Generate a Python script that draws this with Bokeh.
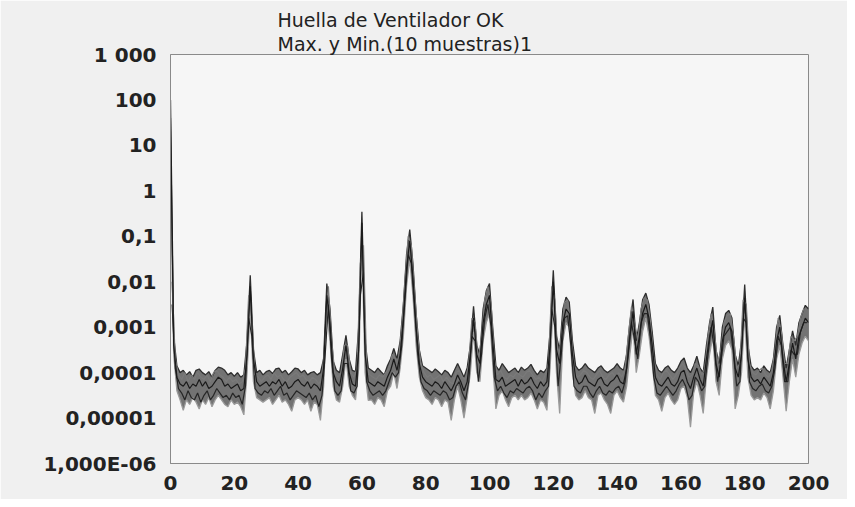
from bokeh.plotting import figure
from bokeh.models import Range1d, FixedTicker, CustomJSTickFormatter, Title, ColumnDataSource
from bokeh.embed import file_html
from bokeh.resources import INLINE

# frequency axis (0..200, step 1) and half-step positions
freq = list(range(0, 201))
freq_half = [i + 0.5 for i in range(0, 200)]

# log10 of amplitude: upper envelope (max of 10 samples)
max_log10 = [
    2.0, -3.2, -3.85, -4.0, -3.95, -4.05, -3.98, -4.1, -3.95, -3.92,
    -4.0, -4.05, -3.98, -4.1, -3.95, -3.88, -3.9, -3.95, -4.05, -4.0,
    -4.08, -4.0, -4.1, -4.05, -3.3, -1.86, -3.5, -4.0, -3.95, -4.05,
    -3.98, -3.95, -4.02, -3.92, -3.9, -4.0, -3.95, -4.05, -3.98, -3.9,
    -3.92, -4.0, -3.95, -4.05, -4.0, -3.98, -4.05, -4.0, -3.7, -2.04,
    -2.6, -3.75, -3.95, -4.0, -3.6, -3.18, -3.7, -3.95, -3.98, -3.0,
    -0.46, -3.3, -3.9, -3.95, -4.0, -3.9, -3.98, -4.05, -3.85, -3.7,
    -3.47, -3.7, -3.3, -2.5, -1.4, -0.85, -1.6, -2.7, -3.5, -3.85,
    -3.9, -3.95, -4.0, -3.92, -3.98, -4.05, -3.95, -4.0, -4.1, -3.95,
    -3.8, -3.95, -4.1, -3.9, -3.4, -2.54, -3.4, -3.6, -2.6, -2.2,
    -2.04, -3.0, -3.85, -3.95, -3.8, -3.9, -4.0, -3.95, -3.9, -4.0,
    -3.88, -3.95, -3.9, -3.82, -3.95, -4.05, -3.95, -4.0, -3.9, -3.1,
    -1.75, -3.2, -3.5, -2.6, -2.34, -2.45, -3.3, -3.85, -3.95, -3.9,
    -3.8, -3.9, -3.95, -4.0, -3.9, -3.85, -3.95, -4.0, -3.95, -3.9,
    -3.8, -3.9, -3.95, -3.6, -2.9, -2.39, -3.3, -2.9, -2.4, -2.25,
    -2.5, -3.1, -3.8, -3.95, -4.0, -3.9, -3.85, -3.95, -4.0, -3.9,
    -3.75, -3.68, -3.9, -4.0, -3.85, -3.64, -3.9, -4.0, -3.4, -2.9,
    -2.56, -3.5, -3.8, -3.0, -2.7, -2.63, -2.8, -3.6, -3.85, -3.3,
    -2.06, -3.4, -3.85, -3.95, -3.9, -4.0, -3.85, -3.95, -4.0, -3.7,
    -3.0, -2.74, -3.4, -3.9, -3.5, -3.08, -3.4, -2.9, -2.7, -2.52,
    -2.6,
]

# log10 of a typical sample
mid_log10 = [
    1.6, -3.4, -4.1, -4.25, -4.3, -4.2, -4.35, -4.25, -4.3, -4.15,
    -4.3, -4.2, -4.35, -4.3, -4.2, -4.1, -4.15, -4.3, -4.25, -4.35,
    -4.3, -4.25, -4.4, -4.35, -3.6, -2.1, -3.7, -4.2, -4.3, -4.25,
    -4.2, -4.3, -4.2, -4.25, -4.15, -4.3, -4.2, -4.35, -4.3, -4.2,
    -4.15, -4.25, -4.3, -4.2, -4.35, -4.25, -4.3, -4.4, -3.9, -2.3,
    -2.9, -4.0, -4.2, -4.3, -3.9, -3.4, -4.0, -4.25, -4.3, -3.5,
    -0.7, -3.6, -4.2, -4.25, -4.3, -4.2, -4.25, -4.3, -4.1, -3.95,
    -3.7, -3.95, -3.6, -2.8, -1.7, -1.1, -1.9, -3.0, -3.8, -4.1,
    -4.2, -4.25, -4.3, -4.2, -4.25, -4.35, -4.2, -4.3, -4.4, -4.25,
    -4.05, -4.2, -4.4, -4.2, -3.6, -2.8, -3.6, -3.8, -2.9, -2.5,
    -2.3, -3.3, -4.15, -4.2, -4.1, -4.3, -4.25, -4.2, -4.15, -4.3,
    -4.15, -4.25, -4.2, -4.1, -4.25, -4.35, -4.2, -4.3, -4.2, -3.4,
    -2.0, -3.5, -3.8, -2.9, -2.6, -2.7, -3.6, -4.1, -4.25, -4.2,
    -4.05, -4.2, -4.25, -4.3, -4.15, -4.1, -4.25, -4.3, -4.2, -4.15,
    -4.05, -4.2, -4.25, -3.9, -3.2, -2.65, -3.6, -3.2, -2.7, -2.5,
    -2.8, -3.4, -4.1, -4.25, -4.3, -4.2, -4.1, -4.25, -4.3, -4.2,
    -4.0, -3.95, -4.2, -4.35, -4.1, -3.9, -4.15, -4.3, -3.7, -3.2,
    -2.85, -3.8, -4.1, -3.3, -3.0, -2.9, -3.1, -3.9, -4.1, -3.6,
    -2.35, -3.7, -4.1, -4.2, -4.15, -4.25, -4.1, -4.2, -4.3, -4.0,
    -3.3, -3.0, -3.7, -4.2, -3.8, -3.35, -3.7, -3.2, -3.0, -2.8,
    -2.9,
]

# log10 of amplitude: lower envelope (min of 10 samples)
min_log10 = [
    0.18, -3.6, -4.4, -4.6, -4.83, -4.6, -4.7, -4.55, -4.65, -4.8,
    -4.6, -4.7, -4.55, -4.75, -4.6, -4.5, -4.6, -4.7, -4.75, -4.6,
    -4.7, -4.65, -4.75, -4.93, -4.0, -2.6, -4.2, -4.55, -4.6, -4.65,
    -4.6, -4.55, -4.7, -4.6, -4.5, -4.65, -4.6, -4.7, -4.85, -4.6,
    -4.55, -4.6, -4.7, -4.6, -4.85, -4.65, -4.7, -5.05, -4.3, -2.7,
    -3.3, -4.3, -4.6, -4.65, -4.3, -3.7, -4.3, -4.5, -4.6, -3.9,
    -1.1, -4.0, -4.61, -4.6, -4.7, -4.55, -4.6, -4.75, -4.4, -4.3,
    -4.0, -4.35, -3.9, -3.2, -2.1, -1.5, -2.3, -3.4, -4.1, -4.4,
    -4.55, -4.6, -4.7, -4.55, -4.6, -4.75, -4.6, -4.65, -5.05, -4.6,
    -4.3, -4.6, -5.0, -4.55, -4.0, -3.1, -4.0, -4.2, -3.3, -2.9,
    -2.7, -3.8, -4.8, -4.5, -4.4, -4.6, -4.75, -4.55, -4.5, -4.6,
    -4.5, -4.6, -4.55, -4.45, -4.6, -4.8, -4.6, -4.65, -4.83, -3.9,
    -2.4, -4.0, -4.9, -3.3, -2.9, -3.0, -4.0, -4.5, -4.6, -4.55,
    -4.4, -4.55, -4.6, -4.9, -4.5, -4.45, -4.6, -4.7, -4.9, -4.5,
    -4.4, -4.55, -4.65, -4.3, -3.6, -3.0, -4.0, -3.6, -3.1, -2.8,
    -3.2, -3.8, -4.5, -4.6, -4.85, -4.55, -4.45, -4.6, -4.7, -4.6,
    -4.35, -4.3, -4.55, -5.2, -4.45, -4.2, -4.5, -4.9, -4.1, -3.6,
    -3.2, -4.2, -4.5, -3.7, -3.4, -3.3, -3.5, -4.8, -4.5, -4.0,
    -2.7, -4.1, -4.5, -4.6, -4.55, -4.6, -4.45, -4.55, -4.8, -4.4,
    -3.7, -3.4, -4.1, -4.85, -4.2, -3.7, -4.1, -3.6, -3.35, -3.2,
    -3.3,
]

# log10 of two more samples, read at the half-step positions
sample_c_log10 = [
    -2.0, -3.7, -4.05, -4.15, -4.0, -4.2, -4.05, -4.15, -4.0, -4.1,
    -4.15, -4.05, -4.2, -4.0, -3.95, -4.05, -4.1, -4.2, -4.1, -4.2,
    -4.15, -4.25, -4.2, -3.9, -2.3, -2.8, -4.05, -4.1, -4.2, -4.1,
    -4.05, -4.15, -4.0, -4.1, -4.05, -4.15, -4.2, -4.1, -4.05, -4.0,
    -4.1, -4.05, -4.15, -4.2, -4.1, -4.15, -4.25, -4.1, -3.2, -2.1,
    -3.3, -4.0, -4.1, -4.0, -3.4, -3.4, -4.0, -4.1, -3.9, -1.6,
    -1.2, -3.9, -4.05, -4.1, -4.15, -4.05, -4.1, -4.0, -3.9, -3.6,
    -3.7, -3.7, -3.0, -2.0, -1.0, -1.2, -2.2, -3.2, -3.8, -4.0,
    -4.1, -4.05, -4.15, -4.1, -4.05, -4.2, -4.1, -4.2, -4.25, -4.0,
    -3.95, -4.1, -4.15, -3.8, -2.8, -2.9, -3.8, -3.2, -2.4, -2.1,
    -2.5, -3.7, -4.05, -3.95, -4.1, -4.15, -4.05, -4.1, -4.0, -4.05,
    -4.1, -4.0, -3.95, -4.05, -4.15, -4.1, -4.2, -4.05, -3.8, -2.1,
    -2.4, -3.8, -3.2, -2.45, -2.4, -3.0, -3.9, -4.1, -4.05, -3.95,
    -4.0, -4.1, -4.15, -4.05, -3.95, -4.1, -4.15, -4.05, -4.0, -4.1,
    -4.0, -4.1, -3.9, -3.2, -2.55, -2.9, -3.3, -2.6, -2.35, -2.4,
    -2.9, -3.7, -4.05, -4.15, -4.0, -3.95, -4.05, -4.15, -4.05, -3.9,
    -3.8, -3.9, -4.1, -4.05, -3.8, -3.85, -4.05, -3.9, -3.2, -2.7,
    -3.1, -3.8, -3.5, -2.9, -2.75, -2.7, -3.2, -3.9, -3.8, -2.4,
    -2.5, -3.8, -4.0, -4.05, -3.95, -3.9, -4.05, -4.1, -3.95, -3.5,
    -2.8, -3.1, -3.8, -3.8, -3.2, -3.3, -3.2, -2.8, -2.6, -2.6,
]

sample_d_log10 = [
    -2.5, -3.9, -4.35, -4.45, -4.6, -4.4, -4.55, -4.6, -4.45, -4.65,
    -4.5, -4.4, -4.6, -4.5, -4.35, -4.45, -4.55, -4.5, -4.6, -4.45,
    -4.55, -4.5, -4.7, -4.3, -2.8, -3.2, -4.35, -4.45, -4.5, -4.4,
    -4.45, -4.35, -4.5, -4.4, -4.3, -4.5, -4.45, -4.6, -4.5, -4.4,
    -4.45, -4.5, -4.55, -4.45, -4.6, -4.5, -4.75, -4.5, -3.6, -2.5,
    -3.7, -4.4, -4.5, -4.4, -3.8, -3.8, -4.4, -4.45, -4.3, -2.3,
    -1.8, -4.2, -4.4, -4.5, -4.45, -4.4, -4.5, -4.4, -4.2, -4.0,
    -4.1, -4.0, -3.4, -2.4, -1.4, -1.6, -2.6, -3.6, -4.2, -4.35,
    -4.4, -4.5, -4.4, -4.45, -4.5, -4.4, -4.45, -4.6, -4.55, -4.3,
    -4.2, -4.45, -4.6, -4.2, -3.2, -3.3, -4.2, -3.6, -2.8, -2.5,
    -3.0, -4.1, -4.4, -4.3, -4.45, -4.55, -4.4, -4.45, -4.35, -4.4,
    -4.45, -4.35, -4.3, -4.4, -4.6, -4.45, -4.55, -4.4, -4.3, -2.6,
    -3.0, -4.3, -3.6, -2.8, -2.75, -3.4, -4.3, -4.4, -4.45, -4.3,
    -4.3, -4.45, -4.55, -4.4, -4.3, -4.45, -4.5, -4.4, -4.45, -4.35,
    -4.3, -4.45, -4.2, -3.6, -2.9, -3.3, -3.7, -2.9, -2.7, -2.7,
    -3.3, -4.1, -4.45, -4.5, -4.4, -4.3, -4.4, -4.5, -4.4, -4.25,
    -4.15, -4.3, -4.6, -4.5, -4.1, -4.2, -4.4, -4.3, -3.6, -3.0,
    -3.5, -4.2, -3.8, -3.2, -3.1, -3.0, -3.6, -4.3, -4.2, -2.8,
    -2.9, -4.2, -4.35, -4.4, -4.3, -4.25, -4.4, -4.45, -4.3, -3.9,
    -3.2, -3.4, -4.2, -4.2, -3.5, -3.6, -3.6, -3.1, -2.9, -2.9,
]

x_ticks = [0, 20, 40, 60, 80, 100, 120, 140, 160, 180, 200]
y_ticks = [1e-6, 1e-5, 1e-4, 1e-3, 1e-2, 1e-1, 1, 10, 100, 1000]
y_tick_labels = ["1,000E-06", "0,00001", "0,0001", "0,001", "0,01", "0,1", "1", "10", "100", "1 000"]

title_line1 = "Huella de Ventilador OK"
title_line2 = "Max. y Min.(10 muestras)1"

src = ColumnDataSource(data=dict(
    f=freq,
    ymax=[10 ** v for v in max_log10],
    ymid=[10 ** v for v in mid_log10],
    ymin=[10 ** v for v in min_log10],
))
src_half = ColumnDataSource(data=dict(
    f=freq_half,
    yc=[10 ** v for v in sample_c_log10],
    yd=[10 ** v for v in sample_d_log10],
))

p = figure(
    width=847, height=499,
    frame_width=638, frame_height=409,
    y_axis_type="log",
    x_range=Range1d(0, 200), y_range=Range1d(1e-6, 1e3),
    output_backend="svg", toolbar_location=None,
    min_border_left=170, min_border_right=39, min_border_top=54, min_border_bottom=36,
    title=None,
)

p.background_fill_color = "#f6f6f6"
p.border_fill_color = "#f0f0f0"
p.outline_line_color = "#8a8a8a"
p.outline_line_width = 1
p.grid.visible = False

t2 = Title(text=title_line2, align="left", offset=107, standoff=0,
           text_font="DejaVu Sans", text_font_size="19px", text_font_style="normal",
           text_color="#222222")
t1 = Title(text=title_line1, align="left", offset=107, standoff=0,
           text_font="DejaVu Sans", text_font_size="19px", text_font_style="normal",
           text_color="#222222")
p.add_layout(t2, "above")
p.add_layout(t1, "above")

p.varea(x="f", y1="ymin", y2="ymax", source=src, fill_color="#3c3c3c", fill_alpha=0.7)
p.line(x="f", y="ymin", source=src, line_color="#9a9a9a", line_width=1.3)
p.line(x="f", y="yd", source=src_half, line_color="#262626", line_width=1.2)
p.line(x="f", y="ymax", source=src, line_color="#2e2e2e", line_width=1.3)
p.line(x="f", y="yc", source=src_half, line_color="#7a7a7a", line_width=1.2)
p.line(x="f", y="ymid", source=src, line_color="#1a1a1a", line_width=1.2)

for ax in (p.xaxis[0], p.yaxis[0]):
    ax.axis_line_color = "#8a8a8a"
    ax.axis_line_width = 1
    ax.major_tick_line_color = None
    ax.minor_tick_line_color = None
    ax.major_label_text_font = "DejaVu Sans"
    ax.major_label_text_font_style = "bold"
    ax.major_label_text_font_size = "20px"
    ax.major_label_text_color = "#222222"

p.xaxis[0].ticker = FixedTicker(ticks=x_ticks)
p.xaxis[0].major_label_standoff = 6
p.yaxis[0].ticker = FixedTicker(ticks=y_ticks)
p.yaxis[0].major_label_standoff = 8
p.yaxis[0].formatter = CustomJSTickFormatter(
    args=dict(labels=y_tick_labels),
    code="const e = Math.round(Math.log10(tick)); return labels[e + 6];",
)

open("out.html", "w").write(file_html(p, INLINE))
